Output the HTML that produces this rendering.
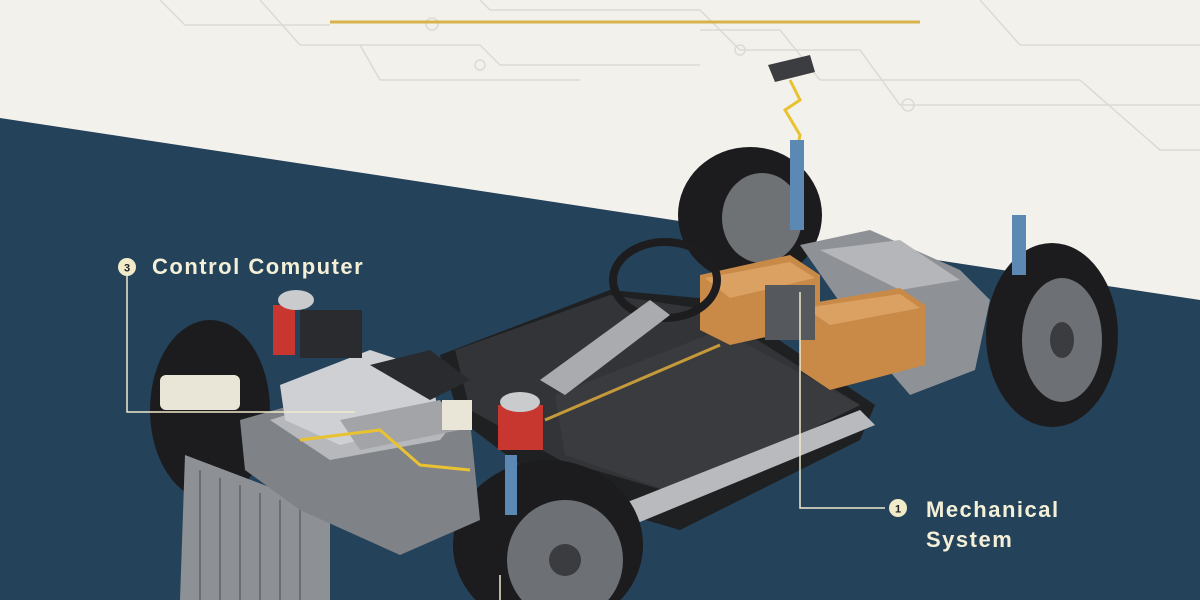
<!DOCTYPE html>
<html><head><meta charset="utf-8"><style>
html,body{margin:0;padding:0;width:1200px;height:600px;overflow:hidden;background:#f3f1ec}
svg{display:block}
.t{font-family:"Liberation Sans",sans-serif;font-weight:bold;fill:#f4f0d8;letter-spacing:1.5px}
</style></head><body>
<svg width="1200" height="600" viewBox="0 0 1200 600">
<rect width="1200" height="600" fill="#f3f1ec"/>
<g stroke="#dcdad4" stroke-width="1.5" fill="none">
<path d="M160 0 L185 25 L330 25"/><path d="M260 0 L300 45 L480 45 L500 65 L700 65"/>
<path d="M480 0 L490 10 L700 10 L740 50 L860 50 L900 105 L1200 105"/>
<path d="M980 0 L1020 45 L1200 45"/><path d="M700 30 L780 30 L820 80 L1080 80 L1160 150 L1200 150"/>
<path d="M360 45 L380 80 L580 80"/>
<circle cx="432" cy="24" r="6"/><circle cx="908" cy="105" r="6"/><circle cx="740" cy="50" r="5"/><circle cx="480" cy="65" r="5"/>
</g>
<line x1="330" y1="22" x2="920" y2="22" stroke="#d8b24a" stroke-width="3"/>
<polygon points="0,118 1200,300 1200,600 0,600" fill="#24425a"/>
<!-- rear top wheel -->
<ellipse cx="750" cy="215" rx="72" ry="68" fill="#1c1c1e"/>
<ellipse cx="762" cy="218" rx="40" ry="45" fill="#6f7275"/>
<!-- rear right wheel -->
<ellipse cx="1052" cy="335" rx="66" ry="92" fill="#1c1c1e"/>
<ellipse cx="1062" cy="340" rx="40" ry="62" fill="#6d7175"/>
<ellipse cx="1062" cy="340" rx="12" ry="18" fill="#3a3c3f"/>
<polygon points="768,65 810,55 815,72 775,82" fill="#3b3d40"/>
<path d="M790 80 L800 100 L785 110 L800 135 L795 160" stroke="#e8c230" stroke-width="3" fill="none"/>
<rect x="790" y="140" width="14" height="90" fill="#5b89b3"/>
<rect x="1012" y="215" width="14" height="60" fill="#5b89b3"/>
<!-- rear axle area -->
<polygon points="800,245 870,230 960,270 990,300 975,370 910,395 880,360" fill="#8e9195"/>
<polygon points="820,250 900,240 960,280 900,290" fill="#b4b6b9"/>
<!-- battery pack -->
<polygon points="440,355 610,290 720,300 875,405 860,440 680,530 560,495 460,420" fill="#1f2022"/>
<polygon points="455,350 610,295 710,310 860,405 680,495 560,460 470,410" fill="#333437"/>
<polygon points="555,395 720,330 860,405 680,495 565,455" fill="#3a3b3e"/>
<line x1="545" y1="420" x2="720" y2="345" stroke="#c59a3a" stroke-width="3"/>
<polygon points="620,505 860,410 875,425 640,522" fill="#b8babd"/>
<!-- orange boxes -->
<polygon points="700,275 790,255 820,275 820,325 730,345 700,330" fill="#c98a48"/>
<polygon points="705,278 790,262 815,278 730,298" fill="#dba163"/>
<polygon points="800,305 900,288 925,305 925,365 830,390 800,370" fill="#c98a48"/>
<polygon points="805,308 900,294 920,308 830,325" fill="#dba163"/>
<rect x="765" y="285" width="50" height="55" fill="#55585c"/>
<ellipse cx="665" cy="280" rx="52" ry="38" fill="none" stroke="#1d1d1f" stroke-width="8"/>
<polygon points="540,380 650,300 670,315 565,395" fill="#a9abae"/>
<!-- front left wheel -->
<ellipse cx="210" cy="410" rx="60" ry="90" fill="#1c1c1e"/>
<!-- front right wheel -->
<ellipse cx="548" cy="545" rx="95" ry="85" fill="#1c1c1e"/>
<ellipse cx="565" cy="560" rx="58" ry="60" fill="#6d7175"/>
<ellipse cx="565" cy="560" rx="16" ry="16" fill="#3a3c3f"/>
<!-- radiator -->
<polygon points="185,455 330,510 330,600 180,600" fill="#8d9094"/>
<g stroke="#6a6d71" stroke-width="2"><line x1="200" y1="470" x2="200" y2="600"/><line x1="220" y1="478" x2="220" y2="600"/><line x1="240" y1="485" x2="240" y2="600"/><line x1="260" y1="493" x2="260" y2="600"/><line x1="280" y1="500" x2="280" y2="600"/><line x1="300" y1="507" x2="300" y2="600"/></g>
<!-- engine -->
<polygon points="240,420 380,380 470,420 480,520 400,555 300,510 245,470" fill="#7f8286"/>
<polygon points="270,420 380,385 460,415 440,440 330,460" fill="#b6b8bb"/>
<polygon points="280,385 370,350 430,370 440,420 340,445 285,420" fill="#cfd0d3"/>
<polygon points="340,420 440,400 460,430 360,450" fill="#a2a4a7"/>
<polygon points="370,365 430,350 470,380 430,400" fill="#2a2b2e"/>
<rect x="300" y="310" width="62" height="48" fill="#2a2b2e"/>
<rect x="160" y="375" width="80" height="35" rx="6" fill="#e9e6d8"/>
<rect x="273" y="305" width="22" height="50" fill="#c7372f"/>
<rect x="498" y="405" width="45" height="45" fill="#c7372f"/>
<ellipse cx="296" cy="300" rx="18" ry="10" fill="#c9cbcd"/>
<ellipse cx="520" cy="402" rx="20" ry="10" fill="#c9cbcd"/>
<rect x="505" y="455" width="12" height="60" fill="#5b89b3"/>
<path d="M300 440 L380 430 L420 465 L470 470" stroke="#e8c230" stroke-width="3" fill="none"/>
<rect x="442" y="400" width="30" height="30" fill="#e9e6d8"/>
<g stroke="#efe9cc" stroke-width="1.5" fill="none">
<path d="M127 275 L127 412 L355 412"/>
<path d="M800 292 L800 508 L885 508"/>
<line x1="500" y1="575" x2="500" y2="600"/>
</g>
<circle cx="127" cy="267" r="9" fill="#f1ebc9"/>
<text x="127" y="271.5" text-anchor="middle" font-family="Liberation Sans,sans-serif" font-weight="bold" font-size="11" fill="#222">3</text>
<circle cx="898" cy="508" r="9" fill="#f1ebc9"/>
<text x="898" y="512.5" text-anchor="middle" font-family="Liberation Sans,sans-serif" font-weight="bold" font-size="11" fill="#222">1</text>
<text class="t" x="152" y="274" font-size="22">Control Computer</text>
<text class="t" x="926" y="517" font-size="22">Mechanical</text>
<text class="t" x="926" y="547" font-size="22">System</text>
</svg>
</body></html>
